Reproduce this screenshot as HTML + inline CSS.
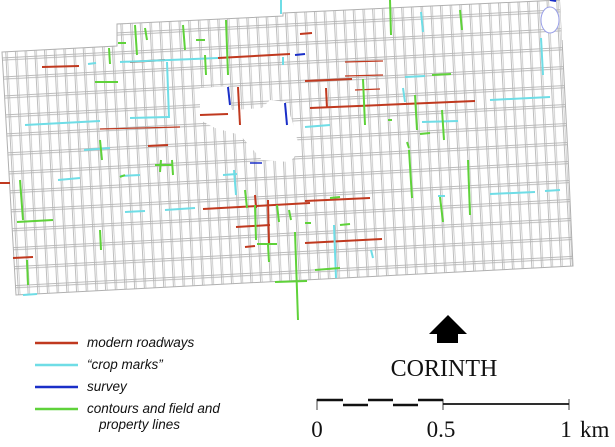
<!DOCTYPE html>
<html><head><style>
html,body{margin:0;padding:0;background:#fff;}
svg{display:block;}
</style></head><body>
<svg width="615" height="447" viewBox="0 0 615 447" xmlns="http://www.w3.org/2000/svg">
<defs>
<pattern id="blk" width="9.7" height="19" patternUnits="userSpaceOnUse" patternTransform="rotate(-3) translate(2,0)">
<line x1="1" y1="0" x2="1" y2="19" stroke="#b8b8b8" stroke-width="0.9"/>
<line x1="2.6" y1="0" x2="2.6" y2="19" stroke="#c4c4c4" stroke-width="0.8"/>
<line x1="0" y1="1" x2="9.7" y2="1" stroke="#b4b4b4" stroke-width="0.9"/>
<line x1="0" y1="3.2" x2="9.7" y2="3.2" stroke="#b4b4b4" stroke-width="0.9"/>
</pattern>
<clipPath id="cp"><polygon points="2,52 117,46 117,24 283,16 283,13 560,0 568,155 573,266 16,295"/></clipPath>
</defs>
<g clip-path="url(#cp)">
<rect x="0" y="0" width="615" height="320" fill="url(#blk)"/>
</g>
<polygon points="2,52 117,46 117,24 283,16 283,13 560,0 568,155 573,266 16,295" fill="none" stroke="#b0b0b0" stroke-width="1"/>
<polygon points="560,0 568,0 570,40 562,40" fill="#fff"/>
<ellipse cx="550" cy="20" rx="9" ry="13" fill="#fff" stroke="#9aa0e8" stroke-width="1"/>
<polygon points="200,88 228,86 232,110 262,108 270,100 285,102 292,120 300,150 290,162 262,160 240,135 215,128 200,120" fill="#fff"/>
<g stroke-width="2" fill="none" stroke-linecap="butt">
<g stroke="#c0391f">
<line x1="42" y1="67" x2="79" y2="66"/><line x1="130" y1="62" x2="165" y2="60"/><line x1="218" y1="58" x2="290" y2="54"/>
<line x1="300" y1="34" x2="312" y2="33"/><line x1="305" y1="81" x2="352" y2="79"/><line x1="310" y1="108" x2="475" y2="101"/>
<line x1="200" y1="115" x2="228" y2="114"/><line x1="100" y1="129" x2="180" y2="127" stroke-width="1.2"/>
<line x1="148" y1="146" x2="168" y2="145"/><line x1="238" y1="87" x2="240" y2="125"/>
<line x1="203" y1="209" x2="310" y2="203"/><line x1="305" y1="201" x2="370" y2="198"/><line x1="236" y1="227" x2="270" y2="225"/>
<line x1="268" y1="200" x2="269" y2="245"/><line x1="255" y1="195" x2="256" y2="208"/><line x1="245" y1="247" x2="255" y2="246"/>
<line x1="13" y1="258" x2="33" y2="257"/><line x1="0" y1="183" x2="10" y2="183"/><line x1="305" y1="243" x2="382" y2="239"/>
<line x1="345" y1="62" x2="383" y2="61" stroke-width="1.2"/><line x1="345" y1="76" x2="383" y2="75" stroke-width="1.2"/><line x1="355" y1="90" x2="380" y2="89" stroke-width="1.2"/>
<line x1="326" y1="88" x2="327" y2="108"/>
</g>
<g stroke="#6fdde6">
<line x1="88" y1="64" x2="96" y2="63"/><line x1="120" y1="62" x2="218" y2="58"/><line x1="25" y1="125" x2="100" y2="121"/>
<line x1="167" y1="62" x2="169" y2="118"/><line x1="130" y1="118" x2="168" y2="117"/><line x1="58" y1="180" x2="80" y2="178"/>
<line x1="125" y1="212" x2="145" y2="211"/><line x1="165" y1="210" x2="195" y2="208"/><line x1="223" y1="175" x2="237" y2="174"/>
<line x1="234" y1="170" x2="236" y2="195"/><line x1="23" y1="295" x2="37" y2="294"/><line x1="490" y1="100" x2="550" y2="97"/>
<line x1="405" y1="77" x2="425" y2="76"/><line x1="541" y1="38" x2="543" y2="75"/><line x1="490" y1="194" x2="535" y2="192"/>
<line x1="545" y1="191" x2="560" y2="190"/><line x1="438" y1="196" x2="445" y2="196"/><line x1="305" y1="127" x2="330" y2="125"/>
<line x1="403" y1="88" x2="405" y2="102"/><line x1="334" y1="225" x2="336" y2="278"/><line x1="84" y1="150" x2="110" y2="148"/>
<line x1="120" y1="176" x2="140" y2="175"/><line x1="422" y1="122" x2="458" y2="121"/><line x1="371" y1="250" x2="373" y2="258"/>
<line x1="421" y1="12" x2="423" y2="32"/><line x1="281" y1="0" x2="281" y2="14"/><line x1="283" y1="57" x2="283" y2="65"/>
</g>
<g stroke="#1a2fc8">
<line x1="228" y1="87" x2="230" y2="105"/><line x1="285" y1="103" x2="287" y2="125"/><line x1="295" y1="55" x2="305" y2="54"/>
<line x1="550" y1="0" x2="556" y2="1"/><line x1="250" y1="163" x2="262" y2="163" stroke-width="1.5"/>
</g>
<g stroke="#5fd23a">
<line x1="17" y1="222" x2="53" y2="220"/><line x1="295" y1="232" x2="298" y2="320"/><line x1="275" y1="282" x2="307" y2="281"/>
<line x1="390" y1="0" x2="391" y2="35"/><line x1="226" y1="20" x2="228" y2="75"/><line x1="135" y1="25" x2="137" y2="55"/>
<line x1="183" y1="25" x2="185" y2="50"/><line x1="145" y1="28" x2="147" y2="40"/><line x1="118" y1="43" x2="126" y2="43"/>
<line x1="196" y1="40" x2="205" y2="40"/><line x1="95" y1="82" x2="118" y2="82"/><line x1="20" y1="180" x2="23" y2="220"/>
<line x1="120" y1="177" x2="125" y2="175"/><line x1="155" y1="165" x2="172" y2="165"/><line x1="172" y1="160" x2="173" y2="175"/>
<line x1="245" y1="190" x2="247" y2="208"/><line x1="255" y1="205" x2="256" y2="240"/><line x1="257" y1="244" x2="277" y2="244"/>
<line x1="268" y1="245" x2="269" y2="262"/><line x1="277" y1="205" x2="279" y2="222"/><line x1="289" y1="210" x2="291" y2="220"/>
<line x1="305" y1="223" x2="311" y2="223"/><line x1="330" y1="198" x2="340" y2="197"/><line x1="315" y1="270" x2="340" y2="268"/>
<line x1="409" y1="150" x2="412" y2="198"/><line x1="440" y1="197" x2="443" y2="222"/><line x1="468" y1="160" x2="470" y2="215"/>
<line x1="432" y1="75" x2="451" y2="74"/><line x1="415" y1="95" x2="417" y2="130"/><line x1="363" y1="79" x2="365" y2="125"/>
<line x1="407" y1="142" x2="409" y2="148"/><line x1="388" y1="120" x2="392" y2="120"/><line x1="340" y1="225" x2="350" y2="224"/>
<line x1="460" y1="10" x2="462" y2="30"/><line x1="442" y1="110" x2="444" y2="140"/><line x1="420" y1="134" x2="430" y2="133"/>
<line x1="100" y1="230" x2="101" y2="250"/><line x1="27" y1="260" x2="28" y2="285"/><line x1="160" y1="172" x2="161" y2="160"/>
<line x1="205" y1="55" x2="206" y2="75"/><line x1="109" y1="48" x2="110" y2="64"/><line x1="100" y1="140" x2="102" y2="160"/>
</g>
</g>
<!-- legend -->
<g stroke-width="2.5">
<line x1="35" y1="343" x2="78" y2="343" stroke="#c0391f"/>
<line x1="35" y1="365" x2="78" y2="365" stroke="#6fdde6"/>
<line x1="35" y1="387" x2="78" y2="387" stroke="#1a2fc8"/>
<line x1="35" y1="409" x2="78" y2="409" stroke="#5fd23a"/>
</g>
<g font-family="Liberation Sans, sans-serif" font-style="italic" font-size="13.5" fill="#111">
<text x="87" y="347">modern roadways</text>
<text x="87" y="369">“crop marks”</text>
<text x="87" y="391">survey</text>
<text x="87" y="413">contours and field and</text>
<text x="99" y="429">property lines</text>
</g>
<!-- north arrow -->
<polygon points="448,315 429,334 467,334" fill="#000"/>
<rect x="437" y="333" width="21" height="10" fill="#000"/>
<text x="444" y="376" text-anchor="middle" font-family="Liberation Serif, serif" font-size="24" fill="#111">CORINTH</text>
<!-- scale -->
<g stroke="#111" fill="none">
<line x1="317" y1="399" x2="317" y2="410" stroke-width="0.8"/>
<line x1="443" y1="399" x2="443" y2="410" stroke-width="0.8"/>
<line x1="569" y1="399" x2="569" y2="410" stroke-width="0.8"/>
<g stroke-width="2.5">
<line x1="317" y1="400" x2="343" y2="400"/><line x1="343" y1="405" x2="368" y2="405"/>
<line x1="368" y1="400" x2="393" y2="400"/><line x1="393" y1="405" x2="418" y2="405"/>
<line x1="418" y1="400" x2="443" y2="400"/>
</g>
<line x1="443" y1="404" x2="569" y2="404" stroke-width="1.8"/>
</g>
<g font-family="Liberation Serif, serif" font-size="23" fill="#111">
<text x="317" y="437" text-anchor="middle">0</text>
<text x="441" y="437" text-anchor="middle">0.5</text>
<text x="566" y="437" text-anchor="middle">1</text>
<text x="580" y="437">km</text>
</g>
</svg>
</body></html>
